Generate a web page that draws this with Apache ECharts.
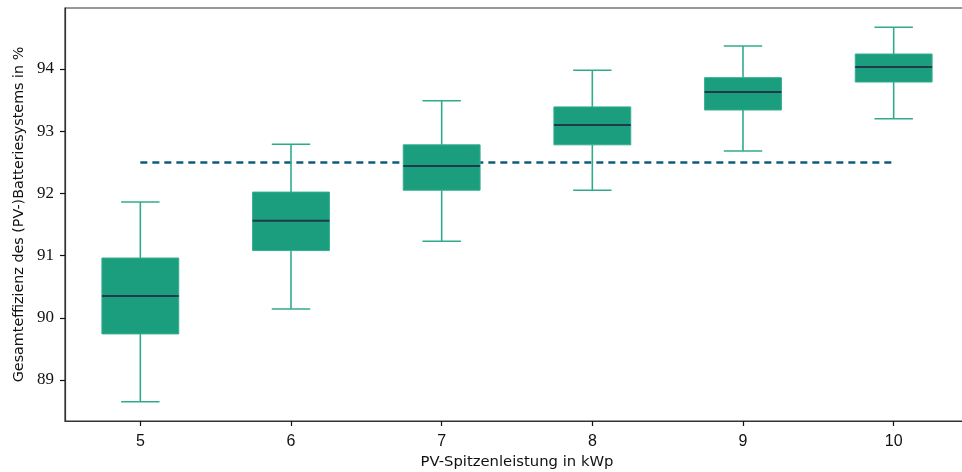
<!DOCTYPE html>
<html>
<head>
<meta charset="utf-8">
<script src="https://cdn.jsdelivr.net/npm/echarts@6/dist/echarts.min.js"></script>
<style>
html,body{margin:0;padding:0;background:#fff;}
#chart{width:962px;height:472px;}
</style>
</head>
<body>
<div id="chart"></div>
<script>
// PV peak power classes (kWp)
const categories = ['5', '6', '7', '8', '9', '10'];
// Box statistics per class: lower whisker, Q1, median, Q3, upper whisker (%)
const whiskerLow = [88.65, 90.14, 91.23, 92.05, 92.68, 93.20];
const q1         = [89.74, 91.08, 92.05, 92.78, 93.34, 93.79];
const median     = [90.35, 91.56, 92.44, 93.10, 93.63, 94.03];
const q3         = [90.96, 92.02, 92.78, 93.39, 93.86, 94.24];
const whiskerHigh= [91.86, 92.79, 93.49, 93.98, 94.37, 94.67];
// Reference efficiency level
const referenceLevel = 92.5;
const yTicks = [89, 90, 91, 92, 93, 94];

const boxData = categories.map((c, i) => [i, whiskerLow[i], q1[i], median[i], q3[i], whiskerHigh[i]]);

const FILL = '#1a9e7e';
const EDGE = '#35ae91';
const WHISKER = '#2fab8c';
const MEDIAN = '#1d3a4e';

function renderBox(params, api) {
  const x = api.value(0);
  const step = api.size([1, 0])[0];
  const bw = step * 0.51;
  const cw = bw * 0.5;
  const pLow = api.coord([x, api.value(1)]);
  const pQ1 = api.coord([x, api.value(2)]);
  const pMed = api.coord([x, api.value(3)]);
  const pQ3 = api.coord([x, api.value(4)]);
  const pHigh = api.coord([x, api.value(5)]);
  const cx = pMed[0];
  const lineStyle = { stroke: WHISKER, lineWidth: 1.6 };
  return {
    type: 'group',
    children: [
      { type: 'line', shape: { x1: cx, y1: pQ1[1], x2: cx, y2: pLow[1] }, style: lineStyle },
      { type: 'line', shape: { x1: cx, y1: pQ3[1], x2: cx, y2: pHigh[1] }, style: lineStyle },
      { type: 'line', shape: { x1: cx - cw / 2, y1: pLow[1], x2: cx + cw / 2, y2: pLow[1] }, style: lineStyle },
      { type: 'line', shape: { x1: cx - cw / 2, y1: pHigh[1], x2: cx + cw / 2, y2: pHigh[1] }, style: lineStyle },
      { type: 'rect', shape: { x: cx - bw / 2, y: pQ3[1], width: bw, height: pQ1[1] - pQ3[1] },
        style: { fill: FILL, stroke: EDGE, lineWidth: 1 } },
      { type: 'line', shape: { x1: cx - bw / 2, y1: pMed[1], x2: cx + bw / 2, y2: pMed[1] },
        style: { stroke: MEDIAN, lineWidth: 2 } }
    ]
  };
}

const chart = echarts.init(document.getElementById('chart'), null, { renderer: 'canvas' });
chart.setOption({
  animation: false,
  backgroundColor: '#ffffff',
  grid: {
    left: 65, top: 8, right: -7, bottom: 51,
    outerBoundsMode: 'none',
    containLabel: false,
    show: true, borderColor: '#333333', borderWidth: 1.2, backgroundColor: 'transparent'
  },
  xAxis: {
    type: 'category',
    data: categories,
    boundaryGap: true,
    name: 'PV-Spitzenleistung in kWp',
    nameLocation: 'middle',
    nameGap: 34,
    nameTextStyle: { fontFamily: 'DejaVu Sans', fontSize: 14.8, color: '#111' },
    axisLine: { show: true, lineStyle: { color: '#333', width: 1.2 } },
    axisTick: { show: true, alignWithLabel: true, length: 5, lineStyle: { color: '#111', width: 1.2 } },
    axisLabel: { fontFamily: 'Liberation Sans', fontSize: 16, color: '#111', margin: 13 },
    splitLine: { show: false }
  },
  yAxis: {
    type: 'value',
    min: 88.34,
    max: 94.98,
    interval: 1,
    name: 'Gesamteffizienz des (PV-)Batteriesystems in %',
    nameLocation: 'middle',
    nameGap: 39,
    nameTextStyle: { fontFamily: 'DejaVu Sans', fontSize: 14.3, color: '#111' },
    axisLine: { show: true, lineStyle: { color: '#333', width: 1.2 } },
    axisTick: { show: true, length: 5, lineStyle: { color: '#111', width: 1.2 },
      customValues: yTicks },
    axisLabel: { fontFamily: 'Liberation Serif', fontSize: 17, color: '#111', margin: 11,
      customValues: yTicks },
    splitLine: { show: false }
  },
  series: [
    {
      type: 'line',
      z: 1,
      data: [],
      markLine: {
        silent: true,
        symbol: ['none', 'none'],
        label: { show: false },
        lineStyle: { color: '#0f5b7c', width: 2.6, type: [7, 5] },
        data: [[
          { coord: [categories[0], referenceLevel] },
          { coord: [categories[categories.length - 1], referenceLevel] }
        ]]
      }
    },
    {
      type: 'custom',
      z: 5,
      renderItem: renderBox,
      encode: { x: 0, y: [1, 2, 3, 4, 5] },
      data: boxData
    }
  ]
});
</script>
</body>
</html>
